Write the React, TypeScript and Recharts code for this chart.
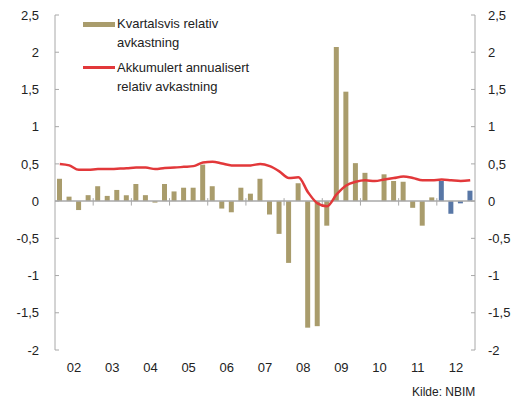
import React from 'react';
import { ComposedChart, Bar, Line, XAxis, YAxis, ReferenceLine, Cell } from 'recharts';

const yearLabels = ['02', '03', '04', '05', '06', '07', '08', '09', '10', '11', '12'];

// Quarterly relative return, 2002Q1 .. 2012Q4
const quarterly = [
  0.30, 0.06, -0.12, 0.08,
  0.20, 0.07, 0.15, 0.08,
  0.23, 0.08, -0.02, 0.23,
  0.13, 0.18, 0.18, 0.49,
  0.20, -0.10, -0.15, 0.18,
  0.10, 0.30, -0.18, -0.44,
  -0.83, 0.24, -1.70, -1.68,
  -0.33, 2.07, 1.47, 0.51,
  0.38, 0.0, 0.36, 0.27,
  0.26, -0.09, -0.33, 0.05,
  0.27, -0.17, -0.03, 0.14,
];

// Accumulated annualised relative return
const accumulated = [
  0.50, 0.48, 0.42, 0.42,
  0.43, 0.43, 0.435, 0.44,
  0.45, 0.45, 0.43, 0.445,
  0.45, 0.46, 0.47, 0.52,
  0.53, 0.505, 0.48, 0.48,
  0.48, 0.50, 0.47, 0.40,
  0.31, 0.32, 0.12, -0.03,
  -0.07, 0.09, 0.21, 0.26,
  0.28, 0.27, 0.29, 0.31,
  0.33, 0.31, 0.28, 0.28,
  0.29, 0.28, 0.27, 0.28,
];

const yTicks = [2.5, 2, 1.5, 1, 0.5, 0, -0.5, -1, -1.5, -2];
const highlightYear = '12';
const legendLabels = ['Kvartalsvis relativ', 'avkastning', 'Akkumulert annualisert', 'relativ avkastning'];

const OLIVE = '#a99c6c';
const BLUE = '#5877a6';
const RED = '#e2383a';
const AXIS = '#a8a8a8';
const FONT = '"Liberation Sans", Arial, sans-serif';

const data = quarterly.map((v, i) => ({
  t: i + 0.5,
  q: v,
  acc: accumulated[i],
  year: yearLabels[Math.floor(i / 4)],
}));

const fmt = (v: number) => String(v).replace('.', ',');

const LegendBox = () => (
  <div style={{ position: 'absolute', left: 83, top: 12, width: 220, height: 90, fontFamily: FONT, fontSize: 13, color: '#222', lineHeight: '19px' }}>
    <div style={{ position: 'absolute', left: 0, top: 10, width: 32, height: 5, background: OLIVE }} />
    <div style={{ position: 'absolute', left: 34, top: 2, whiteSpace: 'nowrap' }}>{legendLabels[0]}<br />{legendLabels[1]}</div>
    <div style={{ position: 'absolute', left: 0, top: 54, width: 32, height: 2.5, background: RED }} />
    <div style={{ position: 'absolute', left: 34, top: 46, whiteSpace: 'nowrap' }}>{legendLabels[2]}<br />{legendLabels[3]}</div>
  </div>
);

export default function App() {
  return (
    <div style={{ position: 'absolute', left: 0, top: 0, width: 523, height: 402, background: '#fff' }}>
      <ComposedChart width={523} height={402} data={data} margin={{ top: 15, right: 0, bottom: 22, left: 0 }}>
        <XAxis
          type="number"
          dataKey="t"
          domain={[0, 44]}
          ticks={yearLabels.map((_, i) => i * 4 + 2)}
          tickFormatter={(v: number) => yearLabels[(v - 2) / 4]}
          axisLine={false}
          tickLine={false}
          tickSize={0}
          tickMargin={13}
          height={30}
          tick={{ fill: '#222', fontSize: 13, fontFamily: FONT }}
          allowDataOverflow
        />
        <YAxis
          yAxisId="left"
          orientation="left"
          domain={[-2, 2.5]}
          ticks={yTicks}
          tickFormatter={fmt}
          width={55}
          axisLine={{ stroke: AXIS }}
          tickLine={{ stroke: AXIS }}
          tickSize={-4}
          tickMargin={20}
          tick={{ fill: '#222', fontSize: 13, fontFamily: FONT }}
          interval={0}
        />
        <YAxis
          yAxisId="right"
          orientation="right"
          domain={[-2, 2.5]}
          ticks={yTicks}
          tickFormatter={fmt}
          width={48}
          axisLine={{ stroke: AXIS }}
          tickLine={{ stroke: AXIS }}
          tickSize={-4}
          tickMargin={17}
          tick={{ fill: '#222', fontSize: 13, fontFamily: FONT, textAnchor: 'start' }}
          interval={0}
        />
        <ReferenceLine yAxisId="left" y={0} stroke={AXIS} strokeWidth={1.5} />
        {yearLabels.slice(1).map((_, i) => (
          <ReferenceLine
            key={i}
            yAxisId="left"
            segment={[{ x: (i + 1) * 4, y: -0.06 }, { x: (i + 1) * 4, y: 0.04 }]}
            stroke={AXIS}
            strokeWidth={1}
          />
        ))}
        <Bar yAxisId="left" dataKey="q" barSize={5} isAnimationActive={false}>
          {data.map((d, i) => (
            <Cell key={i} fill={d.year === highlightYear ? BLUE : OLIVE} />
          ))}
        </Bar>
        <Line
          yAxisId="right"
          dataKey="acc"
          type="monotone"
          stroke={RED}
          strokeWidth={2.5}
          dot={false}
          isAnimationActive={false}
        />
      </ComposedChart>
      <LegendBox />
      <div style={{ position: 'absolute', left: 412, top: 385, fontFamily: FONT, fontSize: 12, color: '#222' }}>Kilde: NBIM</div>
    </div>
  );
}
